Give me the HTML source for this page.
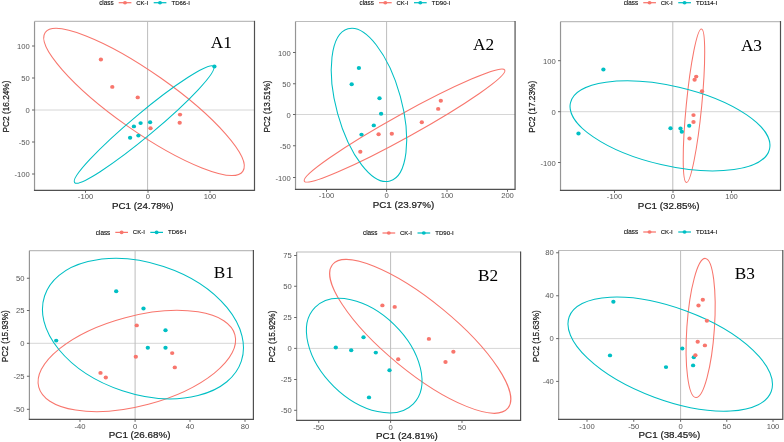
<!DOCTYPE html>
<html><head><meta charset="utf-8"><title>PCA</title>
<style>html,body{margin:0;padding:0;background:#fff;} svg{display:block;will-change:transform;filter:blur(0.35px);}</style></head>
<body><svg width="784" height="442" viewBox="0 0 784 442">
<rect width="784" height="442" fill="#fff"/>
<g id="A1"><line x1="34.53" y1="110.0" x2="254.5" y2="110.0" stroke="#d6d6d6" stroke-width="1.0"/>
<line x1="147.6" y1="21.44" x2="147.6" y2="190.3" stroke="#bdbdbd" stroke-width="1.0"/>
<ellipse cx="144.00" cy="101.95" rx="120.74" ry="29.24" transform="rotate(-144.91 144.00 101.95)" fill="none" stroke="#F8766D" stroke-width="1.05"/>
<ellipse cx="144.12" cy="124.51" rx="90.54" ry="11.33" transform="rotate(140.11 144.12 124.51)" fill="none" stroke="#00BFC4" stroke-width="1.05"/>
<ellipse cx="130.1" cy="137.7" rx="2.15" ry="1.95" fill="#00BFC4"/>
<ellipse cx="133.9" cy="126.4" rx="2.15" ry="1.95" fill="#00BFC4"/>
<ellipse cx="138.4" cy="135.6" rx="2.15" ry="1.95" fill="#00BFC4"/>
<ellipse cx="140.6" cy="123.1" rx="2.15" ry="1.95" fill="#00BFC4"/>
<ellipse cx="150.1" cy="122.3" rx="2.15" ry="1.95" fill="#00BFC4"/>
<ellipse cx="214.4" cy="66.5" rx="2.15" ry="1.95" fill="#00BFC4"/>
<ellipse cx="100.9" cy="59.5" rx="2.15" ry="1.95" fill="#F8766D"/>
<ellipse cx="112.3" cy="86.9" rx="2.15" ry="1.95" fill="#F8766D"/>
<ellipse cx="137.7" cy="97.4" rx="2.15" ry="1.95" fill="#F8766D"/>
<ellipse cx="150.5" cy="128.2" rx="2.15" ry="1.95" fill="#F8766D"/>
<ellipse cx="180" cy="114.6" rx="2.15" ry="1.95" fill="#F8766D"/>
<ellipse cx="179.7" cy="122.8" rx="2.15" ry="1.95" fill="#F8766D"/>
<line x1="34.53" y1="21.44" x2="254.5" y2="21.44" stroke="#bcbcbc" stroke-width="1.2"/>
<line x1="34.53" y1="21.44" x2="34.53" y2="190.3" stroke="#959595" stroke-width="1.2"/>
<line x1="254.5" y1="20.84" x2="254.5" y2="190.9" stroke="#505050" stroke-width="1.2"/>
<line x1="33.93" y1="190.3" x2="254.5" y2="190.3" stroke="#505050" stroke-width="1.2"/>
<line x1="32.03" y1="46" x2="34.53" y2="46" stroke="#555" stroke-width="0.9"/>
<text transform="translate(29.73,49.07) scale(1.186,1)" font-size="6.45" fill="#555" text-anchor="end" font-weight="normal" font-family='"Liberation Sans", sans-serif'>100</text>
<line x1="32.03" y1="78" x2="34.53" y2="78" stroke="#555" stroke-width="0.9"/>
<text transform="translate(29.73,81.07) scale(1.186,1)" font-size="6.45" fill="#555" text-anchor="end" font-weight="normal" font-family='"Liberation Sans", sans-serif'>50</text>
<line x1="32.03" y1="110" x2="34.53" y2="110" stroke="#555" stroke-width="0.9"/>
<text transform="translate(29.73,113.07) scale(1.186,1)" font-size="6.45" fill="#555" text-anchor="end" font-weight="normal" font-family='"Liberation Sans", sans-serif'>0</text>
<line x1="32.03" y1="142" x2="34.53" y2="142" stroke="#555" stroke-width="0.9"/>
<text transform="translate(29.73,145.07) scale(1.186,1)" font-size="6.45" fill="#555" text-anchor="end" font-weight="normal" font-family='"Liberation Sans", sans-serif'>-50</text>
<line x1="32.03" y1="174" x2="34.53" y2="174" stroke="#555" stroke-width="0.9"/>
<text transform="translate(29.73,177.07) scale(1.186,1)" font-size="6.45" fill="#555" text-anchor="end" font-weight="normal" font-family='"Liberation Sans", sans-serif'>-100</text>
<line x1="85.5" y1="190.3" x2="85.5" y2="192.8" stroke="#555" stroke-width="0.9"/>
<text transform="translate(85.50,198.90) scale(1.186,1)" font-size="6.45" fill="#555" text-anchor="middle" font-weight="normal" font-family='"Liberation Sans", sans-serif'>-100</text>
<line x1="148" y1="190.3" x2="148" y2="192.8" stroke="#555" stroke-width="0.9"/>
<text transform="translate(148.00,198.90) scale(1.186,1)" font-size="6.45" fill="#555" text-anchor="middle" font-weight="normal" font-family='"Liberation Sans", sans-serif'>0</text>
<line x1="210" y1="190.3" x2="210" y2="192.8" stroke="#555" stroke-width="0.9"/>
<text transform="translate(210.00,198.90) scale(1.186,1)" font-size="6.45" fill="#555" text-anchor="middle" font-weight="normal" font-family='"Liberation Sans", sans-serif'>100</text>
<text transform="translate(142.80,208.60) scale(1.186,1)" font-size="8.28" fill="#1a1a1a" text-anchor="middle" font-weight="normal" font-family='"Liberation Sans", sans-serif' stroke="#1a1a1a" stroke-width="0.2">PC1 (24.78%)</text>
<text transform="translate(8.54,106.50) scale(1.186,1) rotate(-90)" font-size="8.28" fill="#1a1a1a" text-anchor="middle" font-weight="normal" font-family='"Liberation Sans", sans-serif' stroke="#1a1a1a" stroke-width="0.2">PC2 (16.24%)</text>
<text transform="translate(99.20,5.05) scale(1.0,1)" font-size="6.35" fill="#111" text-anchor="start" font-weight="normal" font-family='"Liberation Sans", sans-serif' stroke="#111" stroke-width="0.13">class</text>
<line x1="118.70" y1="2.7" x2="131.40" y2="2.7" stroke="#F8766D" stroke-width="1.25"/>
<ellipse cx="125.00" cy="2.7" rx="2.0" ry="1.8" fill="#F8766D"/>
<text transform="translate(136.20,4.60) scale(1.0,1)" font-size="6.0" fill="#111" text-anchor="start" font-weight="normal" font-family='"Liberation Sans", sans-serif' stroke="#111" stroke-width="0.13">CK-I</text>
<line x1="153.70" y1="2.7" x2="166.40" y2="2.7" stroke="#00BFC4" stroke-width="1.25"/>
<ellipse cx="160.00" cy="2.7" rx="2.0" ry="1.8" fill="#00BFC4"/>
<text transform="translate(171.50,4.60) scale(1.0,1)" font-size="6.0" fill="#111" text-anchor="start" font-weight="normal" font-family='"Liberation Sans", sans-serif' stroke="#111" stroke-width="0.13">TD66-I</text>
<text x="210.7" y="47.6" font-size="17.3" fill="#000" font-family='"Liberation Serif", serif'>A1</text></g>
<g id="A2"><line x1="295.52" y1="114.5" x2="515.07" y2="114.5" stroke="#d6d6d6" stroke-width="1.0"/>
<line x1="386.6" y1="21.52" x2="386.6" y2="189.3" stroke="#bdbdbd" stroke-width="1.0"/>
<ellipse cx="404.54" cy="125.59" rx="114.61" ry="11.60" transform="rotate(150.98 404.54 125.59)" fill="none" stroke="#F8766D" stroke-width="1.05"/>
<ellipse cx="368.97" cy="104.94" rx="78.93" ry="32.51" transform="rotate(-105.41 368.97 104.94)" fill="none" stroke="#00BFC4" stroke-width="1.05"/>
<ellipse cx="358.9" cy="68" rx="2.15" ry="1.95" fill="#00BFC4"/>
<ellipse cx="351.7" cy="84.3" rx="2.15" ry="1.95" fill="#00BFC4"/>
<ellipse cx="379.5" cy="98.3" rx="2.15" ry="1.95" fill="#00BFC4"/>
<ellipse cx="381.1" cy="113.8" rx="2.15" ry="1.95" fill="#00BFC4"/>
<ellipse cx="373.8" cy="125.4" rx="2.15" ry="1.95" fill="#00BFC4"/>
<ellipse cx="361.5" cy="134.6" rx="2.15" ry="1.95" fill="#00BFC4"/>
<ellipse cx="378.6" cy="134.2" rx="2.15" ry="1.95" fill="#F8766D"/>
<ellipse cx="391.8" cy="133.8" rx="2.15" ry="1.95" fill="#F8766D"/>
<ellipse cx="360.3" cy="151.8" rx="2.15" ry="1.95" fill="#F8766D"/>
<ellipse cx="421.8" cy="122.3" rx="2.15" ry="1.95" fill="#F8766D"/>
<ellipse cx="438.2" cy="108.9" rx="2.15" ry="1.95" fill="#F8766D"/>
<ellipse cx="440.8" cy="100.8" rx="2.15" ry="1.95" fill="#F8766D"/>
<line x1="295.52" y1="21.52" x2="515.07" y2="21.52" stroke="#bcbcbc" stroke-width="1.2"/>
<line x1="295.52" y1="21.52" x2="295.52" y2="189.3" stroke="#959595" stroke-width="1.2"/>
<line x1="515.07" y1="20.919999999999998" x2="515.07" y2="189.9" stroke="#505050" stroke-width="1.2"/>
<line x1="294.91999999999996" y1="189.3" x2="515.07" y2="189.3" stroke="#505050" stroke-width="1.2"/>
<line x1="293.02" y1="52.5" x2="295.52" y2="52.5" stroke="#555" stroke-width="0.9"/>
<text transform="translate(290.72,55.57) scale(1.186,1)" font-size="6.45" fill="#555" text-anchor="end" font-weight="normal" font-family='"Liberation Sans", sans-serif'>100</text>
<line x1="293.02" y1="83.75" x2="295.52" y2="83.75" stroke="#555" stroke-width="0.9"/>
<text transform="translate(290.72,86.82) scale(1.186,1)" font-size="6.45" fill="#555" text-anchor="end" font-weight="normal" font-family='"Liberation Sans", sans-serif'>50</text>
<line x1="293.02" y1="114.5" x2="295.52" y2="114.5" stroke="#555" stroke-width="0.9"/>
<text transform="translate(290.72,117.57) scale(1.186,1)" font-size="6.45" fill="#555" text-anchor="end" font-weight="normal" font-family='"Liberation Sans", sans-serif'>0</text>
<line x1="293.02" y1="145.75" x2="295.52" y2="145.75" stroke="#555" stroke-width="0.9"/>
<text transform="translate(290.72,148.82) scale(1.186,1)" font-size="6.45" fill="#555" text-anchor="end" font-weight="normal" font-family='"Liberation Sans", sans-serif'>-50</text>
<line x1="293.02" y1="177.5" x2="295.52" y2="177.5" stroke="#555" stroke-width="0.9"/>
<text transform="translate(290.72,180.57) scale(1.186,1)" font-size="6.45" fill="#555" text-anchor="end" font-weight="normal" font-family='"Liberation Sans", sans-serif'>-100</text>
<line x1="326.5" y1="189.3" x2="326.5" y2="191.8" stroke="#555" stroke-width="0.9"/>
<text transform="translate(326.50,197.90) scale(1.186,1)" font-size="6.45" fill="#555" text-anchor="middle" font-weight="normal" font-family='"Liberation Sans", sans-serif'>-100</text>
<line x1="386.6" y1="189.3" x2="386.6" y2="191.8" stroke="#555" stroke-width="0.9"/>
<text transform="translate(386.60,197.90) scale(1.186,1)" font-size="6.45" fill="#555" text-anchor="middle" font-weight="normal" font-family='"Liberation Sans", sans-serif'>0</text>
<line x1="447" y1="189.3" x2="447" y2="191.8" stroke="#555" stroke-width="0.9"/>
<text transform="translate(447.00,197.90) scale(1.186,1)" font-size="6.45" fill="#555" text-anchor="middle" font-weight="normal" font-family='"Liberation Sans", sans-serif'>100</text>
<line x1="507.5" y1="189.3" x2="507.5" y2="191.8" stroke="#555" stroke-width="0.9"/>
<text transform="translate(507.50,197.90) scale(1.186,1)" font-size="6.45" fill="#555" text-anchor="middle" font-weight="normal" font-family='"Liberation Sans", sans-serif'>200</text>
<text transform="translate(403.50,207.60) scale(1.186,1)" font-size="8.28" fill="#1a1a1a" text-anchor="middle" font-weight="normal" font-family='"Liberation Sans", sans-serif' stroke="#1a1a1a" stroke-width="0.2">PC1 (23.97%)</text>
<text transform="translate(270.44,106.40) scale(1.186,1) rotate(-90)" font-size="8.28" fill="#1a1a1a" text-anchor="middle" font-weight="normal" font-family='"Liberation Sans", sans-serif' stroke="#1a1a1a" stroke-width="0.2">PC2 (13.51%)</text>
<text transform="translate(359.50,5.05) scale(1.0,1)" font-size="6.35" fill="#111" text-anchor="start" font-weight="normal" font-family='"Liberation Sans", sans-serif' stroke="#111" stroke-width="0.13">class</text>
<line x1="379.00" y1="2.7" x2="391.70" y2="2.7" stroke="#F8766D" stroke-width="1.25"/>
<ellipse cx="385.30" cy="2.7" rx="2.0" ry="1.8" fill="#F8766D"/>
<text transform="translate(396.50,4.60) scale(1.0,1)" font-size="6.0" fill="#111" text-anchor="start" font-weight="normal" font-family='"Liberation Sans", sans-serif' stroke="#111" stroke-width="0.13">CK-I</text>
<line x1="414.00" y1="2.7" x2="426.70" y2="2.7" stroke="#00BFC4" stroke-width="1.25"/>
<ellipse cx="420.30" cy="2.7" rx="2.0" ry="1.8" fill="#00BFC4"/>
<text transform="translate(431.80,4.60) scale(1.0,1)" font-size="6.0" fill="#111" text-anchor="start" font-weight="normal" font-family='"Liberation Sans", sans-serif' stroke="#111" stroke-width="0.13">TD90-I</text>
<text x="473.1" y="50.3" font-size="17.3" fill="#000" font-family='"Liberation Serif", serif'>A2</text></g>
<g id="A3"><line x1="560.52" y1="111.7" x2="780.5" y2="111.7" stroke="#d6d6d6" stroke-width="1.0"/>
<line x1="672.8" y1="21.64" x2="672.8" y2="190.45" stroke="#bdbdbd" stroke-width="1.0"/>
<ellipse cx="693.96" cy="105.71" rx="77.10" ry="7.72" transform="rotate(-84.41 693.96 105.71)" fill="none" stroke="#F8766D" stroke-width="1.05"/>
<ellipse cx="669.99" cy="125.90" rx="102.18" ry="39.73" transform="rotate(-166.93 669.99 125.90)" fill="none" stroke="#00BFC4" stroke-width="1.05"/>
<ellipse cx="603.4" cy="69.5" rx="2.15" ry="1.95" fill="#00BFC4"/>
<ellipse cx="578.5" cy="133.5" rx="2.15" ry="1.95" fill="#00BFC4"/>
<ellipse cx="670.5" cy="128.2" rx="2.15" ry="1.95" fill="#00BFC4"/>
<ellipse cx="680.5" cy="128.5" rx="2.15" ry="1.95" fill="#00BFC4"/>
<ellipse cx="681.8" cy="131.8" rx="2.15" ry="1.95" fill="#00BFC4"/>
<ellipse cx="689.2" cy="125.7" rx="2.15" ry="1.95" fill="#00BFC4"/>
<ellipse cx="693.5" cy="115.1" rx="2.15" ry="1.95" fill="#F8766D"/>
<ellipse cx="693.5" cy="122" rx="2.15" ry="1.95" fill="#F8766D"/>
<ellipse cx="689.5" cy="138.5" rx="2.15" ry="1.95" fill="#F8766D"/>
<ellipse cx="702" cy="91.2" rx="2.15" ry="1.95" fill="#F8766D"/>
<ellipse cx="696.2" cy="76.6" rx="2.15" ry="1.95" fill="#F8766D"/>
<ellipse cx="694.6" cy="79.7" rx="2.15" ry="1.95" fill="#F8766D"/>
<line x1="560.52" y1="21.64" x2="780.5" y2="21.64" stroke="#bcbcbc" stroke-width="1.2"/>
<line x1="560.52" y1="21.64" x2="560.52" y2="190.45" stroke="#959595" stroke-width="1.2"/>
<line x1="780.5" y1="21.04" x2="780.5" y2="191.04999999999998" stroke="#505050" stroke-width="1.2"/>
<line x1="559.92" y1="190.45" x2="780.5" y2="190.45" stroke="#505050" stroke-width="1.2"/>
<line x1="558.02" y1="60.7" x2="560.52" y2="60.7" stroke="#555" stroke-width="0.9"/>
<text transform="translate(555.72,63.77) scale(1.186,1)" font-size="6.45" fill="#555" text-anchor="end" font-weight="normal" font-family='"Liberation Sans", sans-serif'>100</text>
<line x1="558.02" y1="111.7" x2="560.52" y2="111.7" stroke="#555" stroke-width="0.9"/>
<text transform="translate(555.72,114.77) scale(1.186,1)" font-size="6.45" fill="#555" text-anchor="end" font-weight="normal" font-family='"Liberation Sans", sans-serif'>0</text>
<line x1="558.02" y1="162.5" x2="560.52" y2="162.5" stroke="#555" stroke-width="0.9"/>
<text transform="translate(555.72,165.57) scale(1.186,1)" font-size="6.45" fill="#555" text-anchor="end" font-weight="normal" font-family='"Liberation Sans", sans-serif'>-100</text>
<line x1="614.5" y1="190.45" x2="614.5" y2="192.95" stroke="#555" stroke-width="0.9"/>
<text transform="translate(614.50,199.05) scale(1.186,1)" font-size="6.45" fill="#555" text-anchor="middle" font-weight="normal" font-family='"Liberation Sans", sans-serif'>-100</text>
<line x1="673" y1="190.45" x2="673" y2="192.95" stroke="#555" stroke-width="0.9"/>
<text transform="translate(673.00,199.05) scale(1.186,1)" font-size="6.45" fill="#555" text-anchor="middle" font-weight="normal" font-family='"Liberation Sans", sans-serif'>0</text>
<line x1="731.5" y1="190.45" x2="731.5" y2="192.95" stroke="#555" stroke-width="0.9"/>
<text transform="translate(731.50,199.05) scale(1.186,1)" font-size="6.45" fill="#555" text-anchor="middle" font-weight="normal" font-family='"Liberation Sans", sans-serif'>100</text>
<text transform="translate(668.70,208.75) scale(1.186,1)" font-size="8.28" fill="#1a1a1a" text-anchor="middle" font-weight="normal" font-family='"Liberation Sans", sans-serif' stroke="#1a1a1a" stroke-width="0.2">PC1 (32.85%)</text>
<text transform="translate(535.24,106.80) scale(1.186,1) rotate(-90)" font-size="8.28" fill="#1a1a1a" text-anchor="middle" font-weight="normal" font-family='"Liberation Sans", sans-serif' stroke="#1a1a1a" stroke-width="0.2">PC2 (17.23%)</text>
<text transform="translate(623.75,5.05) scale(1.0,1)" font-size="6.35" fill="#111" text-anchor="start" font-weight="normal" font-family='"Liberation Sans", sans-serif' stroke="#111" stroke-width="0.13">class</text>
<line x1="643.25" y1="2.7" x2="655.95" y2="2.7" stroke="#F8766D" stroke-width="1.25"/>
<ellipse cx="649.55" cy="2.7" rx="2.0" ry="1.8" fill="#F8766D"/>
<text transform="translate(660.75,4.60) scale(1.0,1)" font-size="6.0" fill="#111" text-anchor="start" font-weight="normal" font-family='"Liberation Sans", sans-serif' stroke="#111" stroke-width="0.13">CK-I</text>
<line x1="678.25" y1="2.7" x2="690.95" y2="2.7" stroke="#00BFC4" stroke-width="1.25"/>
<ellipse cx="684.55" cy="2.7" rx="2.0" ry="1.8" fill="#00BFC4"/>
<text transform="translate(696.05,4.60) scale(1.0,1)" font-size="6.0" fill="#111" text-anchor="start" font-weight="normal" font-family='"Liberation Sans", sans-serif' stroke="#111" stroke-width="0.13">TD114-I</text>
<text x="740.9" y="51.3" font-size="17.3" fill="#000" font-family='"Liberation Serif", serif'>A3</text></g>
<g id="B1"><line x1="29.41" y1="343.3" x2="253.4" y2="343.3" stroke="#d6d6d6" stroke-width="1.0"/>
<line x1="135.1" y1="250.64" x2="135.1" y2="419.34" stroke="#bdbdbd" stroke-width="1.0"/>
<ellipse cx="136.83" cy="360.97" rx="101.52" ry="44.82" transform="rotate(165.07 136.83 360.97)" fill="none" stroke="#F8766D" stroke-width="1.05"/>
<ellipse cx="142.96" cy="328.59" rx="103.65" ry="65.45" transform="rotate(-161.67 142.96 328.59)" fill="none" stroke="#00BFC4" stroke-width="1.05"/>
<ellipse cx="56.2" cy="340.6" rx="2.15" ry="1.95" fill="#00BFC4"/>
<ellipse cx="116.2" cy="291.2" rx="2.15" ry="1.95" fill="#00BFC4"/>
<ellipse cx="143.5" cy="308.5" rx="2.15" ry="1.95" fill="#00BFC4"/>
<ellipse cx="165.5" cy="330.3" rx="2.15" ry="1.95" fill="#00BFC4"/>
<ellipse cx="147.8" cy="347.7" rx="2.15" ry="1.95" fill="#00BFC4"/>
<ellipse cx="165.5" cy="347.7" rx="2.15" ry="1.95" fill="#00BFC4"/>
<ellipse cx="136.7" cy="325.4" rx="2.15" ry="1.95" fill="#F8766D"/>
<ellipse cx="135.8" cy="356.8" rx="2.15" ry="1.95" fill="#F8766D"/>
<ellipse cx="172.2" cy="353.1" rx="2.15" ry="1.95" fill="#F8766D"/>
<ellipse cx="174.8" cy="367.4" rx="2.15" ry="1.95" fill="#F8766D"/>
<ellipse cx="100.5" cy="372.9" rx="2.15" ry="1.95" fill="#F8766D"/>
<ellipse cx="105.8" cy="377.5" rx="2.15" ry="1.95" fill="#F8766D"/>
<line x1="29.41" y1="250.64" x2="253.4" y2="250.64" stroke="#bcbcbc" stroke-width="1.2"/>
<line x1="29.41" y1="250.64" x2="29.41" y2="419.34" stroke="#959595" stroke-width="1.2"/>
<line x1="253.4" y1="250.04" x2="253.4" y2="419.94" stroke="#505050" stroke-width="1.2"/>
<line x1="28.81" y1="419.34" x2="253.4" y2="419.34" stroke="#505050" stroke-width="1.2"/>
<line x1="26.91" y1="278.25" x2="29.41" y2="278.25" stroke="#555" stroke-width="0.9"/>
<text transform="translate(24.61,280.77) scale(1.186,1)" font-size="6.45" fill="#555" text-anchor="end" font-weight="normal" font-family='"Liberation Sans", sans-serif'>50</text>
<line x1="26.91" y1="310.5" x2="29.41" y2="310.5" stroke="#555" stroke-width="0.9"/>
<text transform="translate(24.61,313.02) scale(1.186,1)" font-size="6.45" fill="#555" text-anchor="end" font-weight="normal" font-family='"Liberation Sans", sans-serif'>25</text>
<line x1="26.91" y1="343.3" x2="29.41" y2="343.3" stroke="#555" stroke-width="0.9"/>
<text transform="translate(24.61,345.82) scale(1.186,1)" font-size="6.45" fill="#555" text-anchor="end" font-weight="normal" font-family='"Liberation Sans", sans-serif'>0</text>
<line x1="26.91" y1="376.25" x2="29.41" y2="376.25" stroke="#555" stroke-width="0.9"/>
<text transform="translate(24.61,378.77) scale(1.186,1)" font-size="6.45" fill="#555" text-anchor="end" font-weight="normal" font-family='"Liberation Sans", sans-serif'>-25</text>
<line x1="26.91" y1="409.3" x2="29.41" y2="409.3" stroke="#555" stroke-width="0.9"/>
<text transform="translate(24.61,411.82) scale(1.186,1)" font-size="6.45" fill="#555" text-anchor="end" font-weight="normal" font-family='"Liberation Sans", sans-serif'>-50</text>
<line x1="80" y1="419.34" x2="80" y2="421.84" stroke="#555" stroke-width="0.9"/>
<text transform="translate(80.00,428.64) scale(1.186,1)" font-size="6.45" fill="#555" text-anchor="middle" font-weight="normal" font-family='"Liberation Sans", sans-serif'>-40</text>
<line x1="135.1" y1="419.34" x2="135.1" y2="421.84" stroke="#555" stroke-width="0.9"/>
<text transform="translate(135.10,428.64) scale(1.186,1)" font-size="6.45" fill="#555" text-anchor="middle" font-weight="normal" font-family='"Liberation Sans", sans-serif'>0</text>
<line x1="190" y1="419.34" x2="190" y2="421.84" stroke="#555" stroke-width="0.9"/>
<text transform="translate(190.00,428.64) scale(1.186,1)" font-size="6.45" fill="#555" text-anchor="middle" font-weight="normal" font-family='"Liberation Sans", sans-serif'>40</text>
<line x1="245" y1="419.34" x2="245" y2="421.84" stroke="#555" stroke-width="0.9"/>
<text transform="translate(245.00,428.64) scale(1.186,1)" font-size="6.45" fill="#555" text-anchor="middle" font-weight="normal" font-family='"Liberation Sans", sans-serif'>80</text>
<text transform="translate(139.60,438.04) scale(1.186,1)" font-size="8.28" fill="#1a1a1a" text-anchor="middle" font-weight="normal" font-family='"Liberation Sans", sans-serif' stroke="#1a1a1a" stroke-width="0.2">PC1 (26.68%)</text>
<text transform="translate(8.34,336.20) scale(1.186,1) rotate(-90)" font-size="8.28" fill="#1a1a1a" text-anchor="middle" font-weight="normal" font-family='"Liberation Sans", sans-serif' stroke="#1a1a1a" stroke-width="0.2">PC2 (15.93%)</text>
<text transform="translate(95.80,234.75) scale(1.0,1)" font-size="6.35" fill="#111" text-anchor="start" font-weight="normal" font-family='"Liberation Sans", sans-serif' stroke="#111" stroke-width="0.13">class</text>
<line x1="115.30" y1="232.4" x2="128.00" y2="232.4" stroke="#F8766D" stroke-width="1.25"/>
<ellipse cx="121.60" cy="232.4" rx="2.0" ry="1.8" fill="#F8766D"/>
<text transform="translate(132.80,234.30) scale(1.0,1)" font-size="6.0" fill="#111" text-anchor="start" font-weight="normal" font-family='"Liberation Sans", sans-serif' stroke="#111" stroke-width="0.13">CK-I</text>
<line x1="150.30" y1="232.4" x2="163.00" y2="232.4" stroke="#00BFC4" stroke-width="1.25"/>
<ellipse cx="156.60" cy="232.4" rx="2.0" ry="1.8" fill="#00BFC4"/>
<text transform="translate(168.10,234.30) scale(1.0,1)" font-size="6.0" fill="#111" text-anchor="start" font-weight="normal" font-family='"Liberation Sans", sans-serif' stroke="#111" stroke-width="0.13">TD66-I</text>
<text x="213.7" y="277.5" font-size="17.3" fill="#000" font-family='"Liberation Serif", serif'>B1</text></g>
<g id="B2"><line x1="296.64" y1="348.4" x2="520.6" y2="348.4" stroke="#d6d6d6" stroke-width="1.0"/>
<line x1="390.6" y1="252.02" x2="390.6" y2="420.4" stroke="#bdbdbd" stroke-width="1.0"/>
<ellipse cx="420.24" cy="336.32" rx="113.37" ry="35.21" transform="rotate(-140.67 420.24 336.32)" fill="none" stroke="#F8766D" stroke-width="1.05"/>
<ellipse cx="364.20" cy="355.66" rx="68.85" ry="43.23" transform="rotate(-135.56 364.20 355.66)" fill="none" stroke="#00BFC4" stroke-width="1.05"/>
<ellipse cx="335.8" cy="347.5" rx="2.15" ry="1.95" fill="#00BFC4"/>
<ellipse cx="351.2" cy="350.3" rx="2.15" ry="1.95" fill="#00BFC4"/>
<ellipse cx="363.5" cy="337.2" rx="2.15" ry="1.95" fill="#00BFC4"/>
<ellipse cx="375.8" cy="352.6" rx="2.15" ry="1.95" fill="#00BFC4"/>
<ellipse cx="389.5" cy="370.3" rx="2.15" ry="1.95" fill="#00BFC4"/>
<ellipse cx="369" cy="397.4" rx="2.15" ry="1.95" fill="#00BFC4"/>
<ellipse cx="382.4" cy="305.4" rx="2.15" ry="1.95" fill="#F8766D"/>
<ellipse cx="394.7" cy="306.9" rx="2.15" ry="1.95" fill="#F8766D"/>
<ellipse cx="428.9" cy="338.9" rx="2.15" ry="1.95" fill="#F8766D"/>
<ellipse cx="398.2" cy="359.2" rx="2.15" ry="1.95" fill="#F8766D"/>
<ellipse cx="453.4" cy="351.8" rx="2.15" ry="1.95" fill="#F8766D"/>
<ellipse cx="445.5" cy="362" rx="2.15" ry="1.95" fill="#F8766D"/>
<line x1="296.64" y1="252.02" x2="520.6" y2="252.02" stroke="#bcbcbc" stroke-width="1.2"/>
<line x1="296.64" y1="252.02" x2="296.64" y2="420.4" stroke="#959595" stroke-width="1.2"/>
<line x1="520.6" y1="251.42000000000002" x2="520.6" y2="421.0" stroke="#505050" stroke-width="1.2"/>
<line x1="296.03999999999996" y1="420.4" x2="520.6" y2="420.4" stroke="#505050" stroke-width="1.2"/>
<line x1="294.14" y1="255.5" x2="296.64" y2="255.5" stroke="#555" stroke-width="0.9"/>
<text transform="translate(291.84,258.02) scale(1.186,1)" font-size="6.45" fill="#555" text-anchor="end" font-weight="normal" font-family='"Liberation Sans", sans-serif'>75</text>
<line x1="294.14" y1="286.25" x2="296.64" y2="286.25" stroke="#555" stroke-width="0.9"/>
<text transform="translate(291.84,288.77) scale(1.186,1)" font-size="6.45" fill="#555" text-anchor="end" font-weight="normal" font-family='"Liberation Sans", sans-serif'>50</text>
<line x1="294.14" y1="317.5" x2="296.64" y2="317.5" stroke="#555" stroke-width="0.9"/>
<text transform="translate(291.84,320.02) scale(1.186,1)" font-size="6.45" fill="#555" text-anchor="end" font-weight="normal" font-family='"Liberation Sans", sans-serif'>25</text>
<line x1="294.14" y1="348.4" x2="296.64" y2="348.4" stroke="#555" stroke-width="0.9"/>
<text transform="translate(291.84,350.92) scale(1.186,1)" font-size="6.45" fill="#555" text-anchor="end" font-weight="normal" font-family='"Liberation Sans", sans-serif'>0</text>
<line x1="294.14" y1="379.5" x2="296.64" y2="379.5" stroke="#555" stroke-width="0.9"/>
<text transform="translate(291.84,382.02) scale(1.186,1)" font-size="6.45" fill="#555" text-anchor="end" font-weight="normal" font-family='"Liberation Sans", sans-serif'>-25</text>
<line x1="294.14" y1="410.3" x2="296.64" y2="410.3" stroke="#555" stroke-width="0.9"/>
<text transform="translate(291.84,412.82) scale(1.186,1)" font-size="6.45" fill="#555" text-anchor="end" font-weight="normal" font-family='"Liberation Sans", sans-serif'>-50</text>
<line x1="318.75" y1="420.4" x2="318.75" y2="422.9" stroke="#555" stroke-width="0.9"/>
<text transform="translate(318.75,429.70) scale(1.186,1)" font-size="6.45" fill="#555" text-anchor="middle" font-weight="normal" font-family='"Liberation Sans", sans-serif'>-50</text>
<line x1="390.6" y1="420.4" x2="390.6" y2="422.9" stroke="#555" stroke-width="0.9"/>
<text transform="translate(390.60,429.70) scale(1.186,1)" font-size="6.45" fill="#555" text-anchor="middle" font-weight="normal" font-family='"Liberation Sans", sans-serif'>0</text>
<line x1="462" y1="420.4" x2="462" y2="422.9" stroke="#555" stroke-width="0.9"/>
<text transform="translate(462.00,429.70) scale(1.186,1)" font-size="6.45" fill="#555" text-anchor="middle" font-weight="normal" font-family='"Liberation Sans", sans-serif'>50</text>
<text transform="translate(406.90,439.10) scale(1.186,1)" font-size="8.28" fill="#1a1a1a" text-anchor="middle" font-weight="normal" font-family='"Liberation Sans", sans-serif' stroke="#1a1a1a" stroke-width="0.2">PC1 (24.81%)</text>
<text transform="translate(275.44,336.50) scale(1.186,1) rotate(-90)" font-size="8.28" fill="#1a1a1a" text-anchor="middle" font-weight="normal" font-family='"Liberation Sans", sans-serif' stroke="#1a1a1a" stroke-width="0.2">PC2 (15.92%)</text>
<text transform="translate(363.00,235.35) scale(1.0,1)" font-size="6.35" fill="#111" text-anchor="start" font-weight="normal" font-family='"Liberation Sans", sans-serif' stroke="#111" stroke-width="0.13">class</text>
<line x1="382.50" y1="233.0" x2="395.20" y2="233.0" stroke="#F8766D" stroke-width="1.25"/>
<ellipse cx="388.80" cy="233.0" rx="2.0" ry="1.8" fill="#F8766D"/>
<text transform="translate(400.00,234.90) scale(1.0,1)" font-size="6.0" fill="#111" text-anchor="start" font-weight="normal" font-family='"Liberation Sans", sans-serif' stroke="#111" stroke-width="0.13">CK-I</text>
<line x1="417.50" y1="233.0" x2="430.20" y2="233.0" stroke="#00BFC4" stroke-width="1.25"/>
<ellipse cx="423.80" cy="233.0" rx="2.0" ry="1.8" fill="#00BFC4"/>
<text transform="translate(435.30,234.90) scale(1.0,1)" font-size="6.0" fill="#111" text-anchor="start" font-weight="normal" font-family='"Liberation Sans", sans-serif' stroke="#111" stroke-width="0.13">TD90-I</text>
<text x="477.9" y="280.6" font-size="17.3" fill="#000" font-family='"Liberation Serif", serif'>B2</text></g>
<g id="B3"><line x1="558.64" y1="338.6" x2="782.8" y2="338.6" stroke="#d6d6d6" stroke-width="1.0"/>
<line x1="680.6" y1="250.52" x2="680.6" y2="419.3" stroke="#bdbdbd" stroke-width="1.0"/>
<ellipse cx="700.63" cy="327.95" rx="69.71" ry="13.78" transform="rotate(-86.10 700.63 327.95)" fill="none" stroke="#F8766D" stroke-width="1.05"/>
<ellipse cx="670.22" cy="354.11" rx="107.70" ry="46.01" transform="rotate(-159.70 670.22 354.11)" fill="none" stroke="#00BFC4" stroke-width="1.05"/>
<ellipse cx="613.4" cy="301.8" rx="2.15" ry="1.95" fill="#00BFC4"/>
<ellipse cx="610" cy="355.4" rx="2.15" ry="1.95" fill="#00BFC4"/>
<ellipse cx="666" cy="367.1" rx="2.15" ry="1.95" fill="#00BFC4"/>
<ellipse cx="682.3" cy="348.5" rx="2.15" ry="1.95" fill="#00BFC4"/>
<ellipse cx="693.8" cy="357.2" rx="2.15" ry="1.95" fill="#00BFC4"/>
<ellipse cx="693.1" cy="365.4" rx="2.15" ry="1.95" fill="#00BFC4"/>
<ellipse cx="702.8" cy="299.7" rx="2.15" ry="1.95" fill="#F8766D"/>
<ellipse cx="698.5" cy="305.5" rx="2.15" ry="1.95" fill="#F8766D"/>
<ellipse cx="706.9" cy="320.8" rx="2.15" ry="1.95" fill="#F8766D"/>
<ellipse cx="697.7" cy="341.8" rx="2.15" ry="1.95" fill="#F8766D"/>
<ellipse cx="704.9" cy="345.4" rx="2.15" ry="1.95" fill="#F8766D"/>
<ellipse cx="695.4" cy="355.2" rx="2.15" ry="1.95" fill="#F8766D"/>
<line x1="558.64" y1="250.52" x2="782.8" y2="250.52" stroke="#bcbcbc" stroke-width="1.2"/>
<line x1="558.64" y1="250.52" x2="558.64" y2="419.3" stroke="#959595" stroke-width="1.2"/>
<line x1="782.8" y1="249.92000000000002" x2="782.8" y2="419.90000000000003" stroke="#505050" stroke-width="1.2"/>
<line x1="558.04" y1="419.3" x2="782.8" y2="419.3" stroke="#505050" stroke-width="1.2"/>
<line x1="556.14" y1="252.75" x2="558.64" y2="252.75" stroke="#555" stroke-width="0.9"/>
<text transform="translate(553.84,255.27) scale(1.186,1)" font-size="6.45" fill="#555" text-anchor="end" font-weight="normal" font-family='"Liberation Sans", sans-serif'>80</text>
<line x1="556.14" y1="295.75" x2="558.64" y2="295.75" stroke="#555" stroke-width="0.9"/>
<text transform="translate(553.84,298.27) scale(1.186,1)" font-size="6.45" fill="#555" text-anchor="end" font-weight="normal" font-family='"Liberation Sans", sans-serif'>40</text>
<line x1="556.14" y1="338.6" x2="558.64" y2="338.6" stroke="#555" stroke-width="0.9"/>
<text transform="translate(553.84,341.12) scale(1.186,1)" font-size="6.45" fill="#555" text-anchor="end" font-weight="normal" font-family='"Liberation Sans", sans-serif'>0</text>
<line x1="556.14" y1="381.4" x2="558.64" y2="381.4" stroke="#555" stroke-width="0.9"/>
<text transform="translate(553.84,383.92) scale(1.186,1)" font-size="6.45" fill="#555" text-anchor="end" font-weight="normal" font-family='"Liberation Sans", sans-serif'>-40</text>
<line x1="587" y1="419.3" x2="587" y2="421.8" stroke="#555" stroke-width="0.9"/>
<text transform="translate(587.00,428.60) scale(1.186,1)" font-size="6.45" fill="#555" text-anchor="middle" font-weight="normal" font-family='"Liberation Sans", sans-serif'>-100</text>
<line x1="633.75" y1="419.3" x2="633.75" y2="421.8" stroke="#555" stroke-width="0.9"/>
<text transform="translate(633.75,428.60) scale(1.186,1)" font-size="6.45" fill="#555" text-anchor="middle" font-weight="normal" font-family='"Liberation Sans", sans-serif'>-50</text>
<line x1="680.6" y1="419.3" x2="680.6" y2="421.8" stroke="#555" stroke-width="0.9"/>
<text transform="translate(680.60,428.60) scale(1.186,1)" font-size="6.45" fill="#555" text-anchor="middle" font-weight="normal" font-family='"Liberation Sans", sans-serif'>0</text>
<line x1="726.75" y1="419.3" x2="726.75" y2="421.8" stroke="#555" stroke-width="0.9"/>
<text transform="translate(726.75,428.60) scale(1.186,1)" font-size="6.45" fill="#555" text-anchor="middle" font-weight="normal" font-family='"Liberation Sans", sans-serif'>50</text>
<line x1="773" y1="419.3" x2="773" y2="421.8" stroke="#555" stroke-width="0.9"/>
<text transform="translate(773.00,428.60) scale(1.186,1)" font-size="6.45" fill="#555" text-anchor="middle" font-weight="normal" font-family='"Liberation Sans", sans-serif'>100</text>
<text transform="translate(669.40,438.00) scale(1.186,1)" font-size="8.28" fill="#1a1a1a" text-anchor="middle" font-weight="normal" font-family='"Liberation Sans", sans-serif' stroke="#1a1a1a" stroke-width="0.2">PC1 (38.45%)</text>
<text transform="translate(538.64,336.20) scale(1.186,1) rotate(-90)" font-size="8.28" fill="#1a1a1a" text-anchor="middle" font-weight="normal" font-family='"Liberation Sans", sans-serif' stroke="#1a1a1a" stroke-width="0.2">PC2 (15.63%)</text>
<text transform="translate(623.75,234.35) scale(1.0,1)" font-size="6.35" fill="#111" text-anchor="start" font-weight="normal" font-family='"Liberation Sans", sans-serif' stroke="#111" stroke-width="0.13">class</text>
<line x1="643.25" y1="232.0" x2="655.95" y2="232.0" stroke="#F8766D" stroke-width="1.25"/>
<ellipse cx="649.55" cy="232.0" rx="2.0" ry="1.8" fill="#F8766D"/>
<text transform="translate(660.75,233.90) scale(1.0,1)" font-size="6.0" fill="#111" text-anchor="start" font-weight="normal" font-family='"Liberation Sans", sans-serif' stroke="#111" stroke-width="0.13">CK-I</text>
<line x1="678.25" y1="232.0" x2="690.95" y2="232.0" stroke="#00BFC4" stroke-width="1.25"/>
<ellipse cx="684.55" cy="232.0" rx="2.0" ry="1.8" fill="#00BFC4"/>
<text transform="translate(696.05,233.90) scale(1.0,1)" font-size="6.0" fill="#111" text-anchor="start" font-weight="normal" font-family='"Liberation Sans", sans-serif' stroke="#111" stroke-width="0.13">TD114-I</text>
<text x="734.8" y="278.7" font-size="17.3" fill="#000" font-family='"Liberation Serif", serif'>B3</text></g>
</svg></body></html>
